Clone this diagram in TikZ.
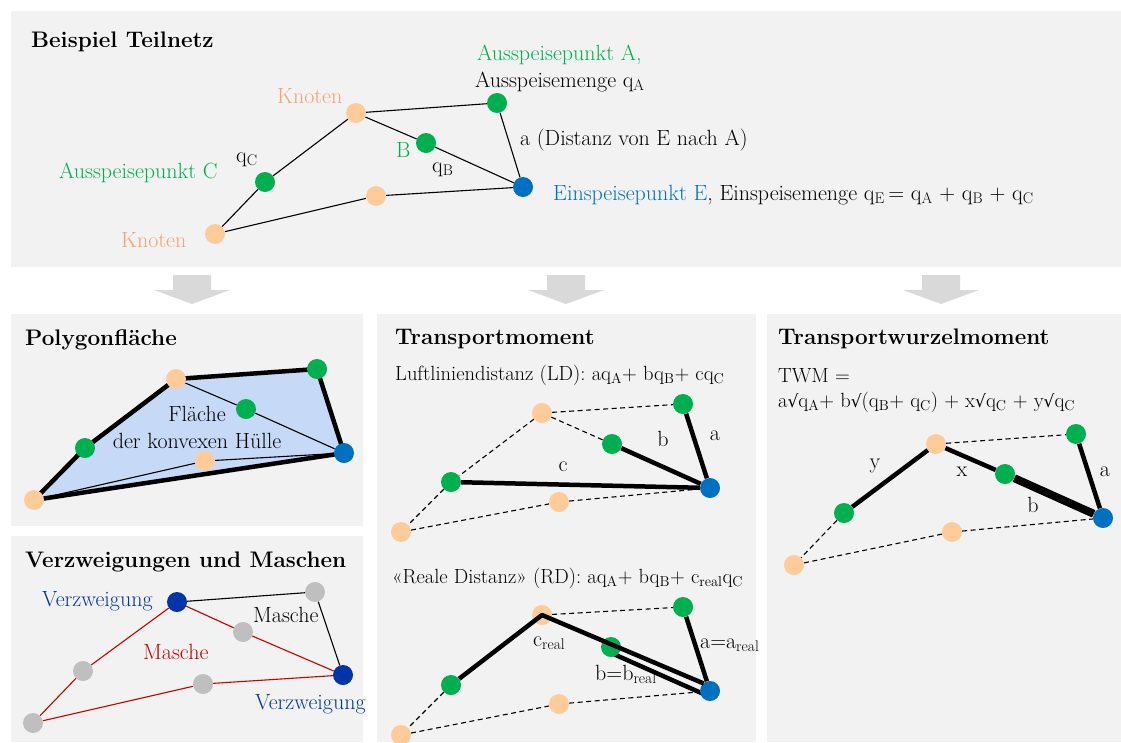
\documentclass[tikz,border=0pt]{standalone}
\usepackage{fontspec}
\newfontfamily\rootfont{DejaVu Serif}
\usetikzlibrary{positioning}

\definecolor{panelgray}{HTML}{F2F2F2}
\definecolor{arrowgray}{HTML}{D9D9D9}
\definecolor{knotorange}{HTML}{FFCC99}
\definecolor{knottext}{HTML}{F5A274}
\definecolor{outgreen}{HTML}{00B050}
\definecolor{inblue}{HTML}{0070C0}
\definecolor{branchblue}{HTML}{0035AA}
\definecolor{meshgray}{HTML}{BFBFBF}
\definecolor{meshred}{HTML}{C80000}
\definecolor{hullblue}{HTML}{C6D9F7}

\pgfdeclarelayer{back}
\pgfdeclarelayer{edges}
\pgfsetlayers{back,edges,main}

\newcommand{\bodyfont}{\fontsize{22}{27}\selectfont}
\newcommand{\formulafont}{\fontsize{20.5}{25}\selectfont}
\newcommand{\titlefont}{\fontsize{22.5}{28}\selectfont\bfseries}
\newcommand{\qs}[1]{q\textsubscript{#1}}
\newcommand{\wurzel}{{\rootfont\fontsize{17}{20}\selectfont √}}

\tikzset{
	panel/.style={
		fill=panelgray
	},
	heading/.style={
		font=\titlefont,
		anchor=base west,
		inner sep=0
	},
	txt/.style={
		font=\bodyfont,
		anchor=base west,
		inner sep=0
	},
	formula/.style={
		txt,
		font=\formulafont
	},
	dot/.style={
		circle,
		minimum size=20pt,
		inner sep=0
	},
	knot/.style={dot, fill=knotorange},
	outlet/.style={dot, fill=outgreen},
	inlet/.style={dot, fill=inblue},
	branch/.style={dot, fill=branchblue},
	meshdot/.style={dot, fill=meshgray},
	line/.style={
		line width=1.1pt
	},
	dashline/.style={
		line width=1.1pt,
		dash pattern=on 5pt off 3.5pt
	},
	boldline/.style={
		line width=4.5pt
	},
	hull/.style={
		fill=hullblue,
		draw=black,
		line width=4.5pt,
		line join=round
	},
	downarrow/.style={
		fill=arrowgray
	}
}

\begin{document}
\begin{tikzpicture}[x=1pt, y=-1pt]
		\useasboundingbox (0,0) rectangle (1121,742);
		
		% panels
		\begin{pgfonlayer}{back}
			\fill[panel] (11,11)   rectangle (1121,267);
			\fill[panel] (11,314)  rectangle (363,526);
			\fill[panel] (11,536)  rectangle (363,742);
			\fill[panel] (377,314) rectangle (756,742);
			\fill[panel] (767,314) rectangle (1121,742);
		\end{pgfonlayer}
		
		% arrows between the panels
		\foreach \cx in {192,566,941}
			\fill[downarrow] ({\cx-19},275) -- ({\cx+19},275) -- ({\cx+19},290) -- ({\cx+38},290)
				-- (\cx,304) -- ({\cx-38},290) -- ({\cx-19},290) -- cycle;
		
		% ---- Beispiel Teilnetz
		\node (t-K) [knot]   at (356,113) {};
		\node (t-A) [outlet] at (497,103) {};
		\node (t-B) [outlet] at (426,143) {};
		\node (t-E) [inlet]  at (523,187) {};
		\node (t-M) [knot]   at (376,196) {};
		\node (t-C) [outlet] at (265,182) {};
		\node (t-L) [knot]   at (215,234) {};
		
		\begin{pgfonlayer}{edges}
			\draw[line] (t-K) -- (t-A);
			\draw[line] (t-K) -- (t-B);
			\draw[line] (t-B) -- (t-E);
			\draw[line] (t-A) -- (t-E);
			\draw[line] (t-K) -- (t-C);
			\draw[line] (t-C) -- (t-L);
			\draw[line] (t-L) -- (t-M);
			\draw[line] (t-M) -- (t-E);
		\end{pgfonlayer}
		
		\node (t-title) [heading] at (31,47) {Beispiel Teilnetz};
		\node (t-lblA)  [txt, text=outgreen] at (477,60) {Ausspeisepunkt A,};
		\node (t-lblqA) [txt] at (475,87) {Ausspeisemenge \qs{A}};
		\node (t-lblK)  [txt, text=knottext] at (277,103) {Knoten};
		\node (t-lbla)  [txt] at (520,145) {a (Distanz von E nach A)};
		\node (t-lblB)  [txt, text=outgreen] at (396,157) {B};
		\node (t-lblqB) [txt] at (432,172) {\qs{B}};
		\node (t-lblqC) [txt] at (236,162) {\qs{C}};
		\node (t-lblC)  [txt, text=outgreen] at (59,178) {Ausspeisepunkt C};
		\node (t-lblE)  [txt] at (553,200) {\textcolor{inblue}{Einspeisepunkt E}, Einspeisemenge \qs{E}\,= \qs{A} + \qs{B} + \qs{C}};
		\node (t-lblL)  [txt, text=knottext] at (121,247) {Knoten};
		
		% ---- Polygonflaeche
		\node (p-K) [knot]   at (176,379) {};
		\node (p-A) [outlet] at (317,369) {};
		\node (p-B) [outlet] at (246,409) {};
		\node (p-E) [inlet]  at (344,453) {};
		\node (p-M) [knot]   at (205,461) {};
		\node (p-C) [outlet] at (85,448) {};
		\node (p-L) [knot]   at (34,500) {};
		
		\begin{pgfonlayer}{edges}
			\draw[hull] (p-L.center) -- (p-C.center) -- (p-K.center) -- (p-A.center) -- (p-E.center) -- cycle;
			\draw[line] (p-K) -- (p-B);
			\draw[line] (p-B) -- (p-E);
			\draw[line] (p-L) -- (p-M);
			\draw[line] (p-M) -- (p-E);
		\end{pgfonlayer}
		
		\node (p-title) [heading] at (25,345) {Polygonfläche};
		\node (p-lbl)   [txt, anchor=center, align=center] at (197,427) {Fläche\\der konvexen Hülle};
		
		% ---- Verzweigungen und Maschen
		\node (v-K) [branch]  at (177,602) {};
		\node (v-A) [meshdot] at (315,592) {};
		\node (v-B) [meshdot] at (243,632) {};
		\node (v-E) [branch]  at (343,675) {};
		\node (v-M) [meshdot] at (203,684) {};
		\node (v-C) [meshdot] at (83,671) {};
		\node (v-L) [meshdot] at (33,723) {};
		
		\begin{pgfonlayer}{edges}
			\draw[line] (v-K) -- (v-A);
			\draw[line] (v-A) -- (v-E);
			\draw[line, meshred] (v-K) -- (v-B);
			\draw[line, meshred] (v-B) -- (v-E);
			\draw[line, meshred] (v-K) -- (v-C);
			\draw[line, meshred] (v-C) -- (v-L);
			\draw[line, meshred] (v-L) -- (v-M);
			\draw[line, meshred] (v-M) -- (v-E);
		\end{pgfonlayer}
		
		\node (v-title)   [heading] at (25,567) {Verzweigungen und Maschen};
		\node (v-lblK)    [txt, text=branchblue] at (42,606) {Verzweigung};
		\node (v-lblmesh) [txt] at (253,622) {Masche};
		\node (v-lblred)  [txt, text=meshred] at (143,659) {Masche};
		\node (v-lblE)    [txt, text=branchblue] at (255,709) {Verzweigung};
		
		% ---- Transportmoment, Luftliniendistanz
		\node (l-K) [knot]   at (542,413) {};
		\node (l-A) [outlet] at (683,404) {};
		\node (l-B) [outlet] at (612,444) {};
		\node (l-E) [inlet]  at (710,488) {};
		\node (l-M) [knot]   at (559,502) {};
		\node (l-C) [outlet] at (451,482) {};
		\node (l-L) [knot]   at (401,532) {};
		
		\begin{pgfonlayer}{edges}
			\draw[dashline] (l-K) -- (l-A);
			\draw[dashline] (l-K) -- (l-B);
			\draw[dashline] (l-K) -- (l-C);
			\draw[dashline] (l-C) -- (l-L);
			\draw[dashline] (l-L) -- (l-M);
			\draw[dashline] (l-M) -- (l-E);
			\draw[boldline] (l-A) -- (l-E);
			\draw[boldline] (l-B) -- (l-E);
			\draw[boldline] (l-C) -- (l-E);
		\end{pgfonlayer}
		
		\node (l-title)   [heading] at (395,344) {Transportmoment};
		\node (l-formula) [formula] at (395,380) {Luftliniendistanz (LD): a\qs{A}+ b\qs{B}+ c\qs{C}};
		\node (l-lbla)    [txt, anchor=base] at (715,440) {a};
		\node (l-lblb)    [txt, anchor=base] at (663,446) {b};
		\node (l-lblc)    [txt, anchor=base] at (563,471) {c};
		
		% ---- Transportmoment, reale Distanz
		\node (r-K) [knot]   at (542,615) {};
		\node (r-A) [outlet] at (683,607) {};
		\node (r-B) [outlet] at (611,647) {};
		\node (r-E) [inlet]  at (710,691) {};
		\node (r-M) [knot]   at (559,704) {};
		\node (r-C) [outlet] at (451,685) {};
		\node (r-L) [knot]   at (401,735) {};
		
		\begin{pgfonlayer}{edges}
			\draw[dashline] (r-K) -- (r-A);
			\draw[dashline] (r-C) -- (r-L);
			\draw[dashline] (r-L) -- (r-M);
			\draw[dashline] (r-M) -- (r-E);
			\draw[boldline] (r-A) -- (r-E);
			\draw[boldline] ([shift={(-2,5)}]r-B.center) -- ([shift={(-2,5)}]r-E.center);
		\end{pgfonlayer}
		\draw[boldline, line join=round, shorten >=9pt] (r-C) -- (r-K.center) -- ([shift={(2,-4)}]r-E.center);
		
		\node (r-formula) [formula] at (392,583) {«Reale Distanz» (RD): a\qs{A}+ b\qs{B}+ c\textsubscript{real}\qs{C}};
		\node (r-lblc)    [txt] at (533,646) {c\textsubscript{real}};
		\node (r-lblb)    [txt] at (595,680) {b=b\textsubscript{real}};
		\node (r-lbla)    [txt] at (700,648) {a=a\textsubscript{real}};
		
		% ---- Transportwurzelmoment
		\node (w-K) [knot]   at (936,444) {};
		\node (w-A) [outlet] at (1076,434) {};
		\node (w-B) [outlet] at (1005,474) {};
		\node (w-E) [inlet]  at (1103,518) {};
		\node (w-M) [knot]   at (952,532) {};
		\node (w-C) [outlet] at (844,513) {};
		\node (w-L) [knot]   at (794,565) {};
		
		\begin{pgfonlayer}{edges}
			\draw[dashline] (w-K) -- (w-A);
			\draw[dashline] (w-C) -- (w-L);
			\draw[dashline] (w-L) -- (w-M);
			\draw[dashline] (w-M) -- (w-E);
			\draw[boldline] (w-C) -- (w-K);
			\draw[boldline] (w-K) -- (w-B);
			\draw[boldline] (w-A) -- (w-E);
			\draw[line width=8pt] (w-B) -- (w-E);
		\end{pgfonlayer}
		
		\node (w-title)    [heading] at (778,344) {Transportwurzelmoment};
		\node (w-formula1) [formula] at (778,382) {TWM =};
		\node (w-formula2) [formula] at (778,407) {a\wurzel\qs{A}+ b\wurzel(\qs{B}+ \qs{C}) + x\wurzel\qs{C} + y\wurzel\qs{C}};
		\node (w-lbly)     [txt, anchor=base] at (875,468) {y};
		\node (w-lblx)     [txt, anchor=base] at (962,476) {x};
		\node (w-lblb)     [txt, anchor=base] at (1033,512) {b};
		\node (w-lbla)     [txt, anchor=base] at (1105,476) {a};
		
	\end{tikzpicture}
\end{document}
